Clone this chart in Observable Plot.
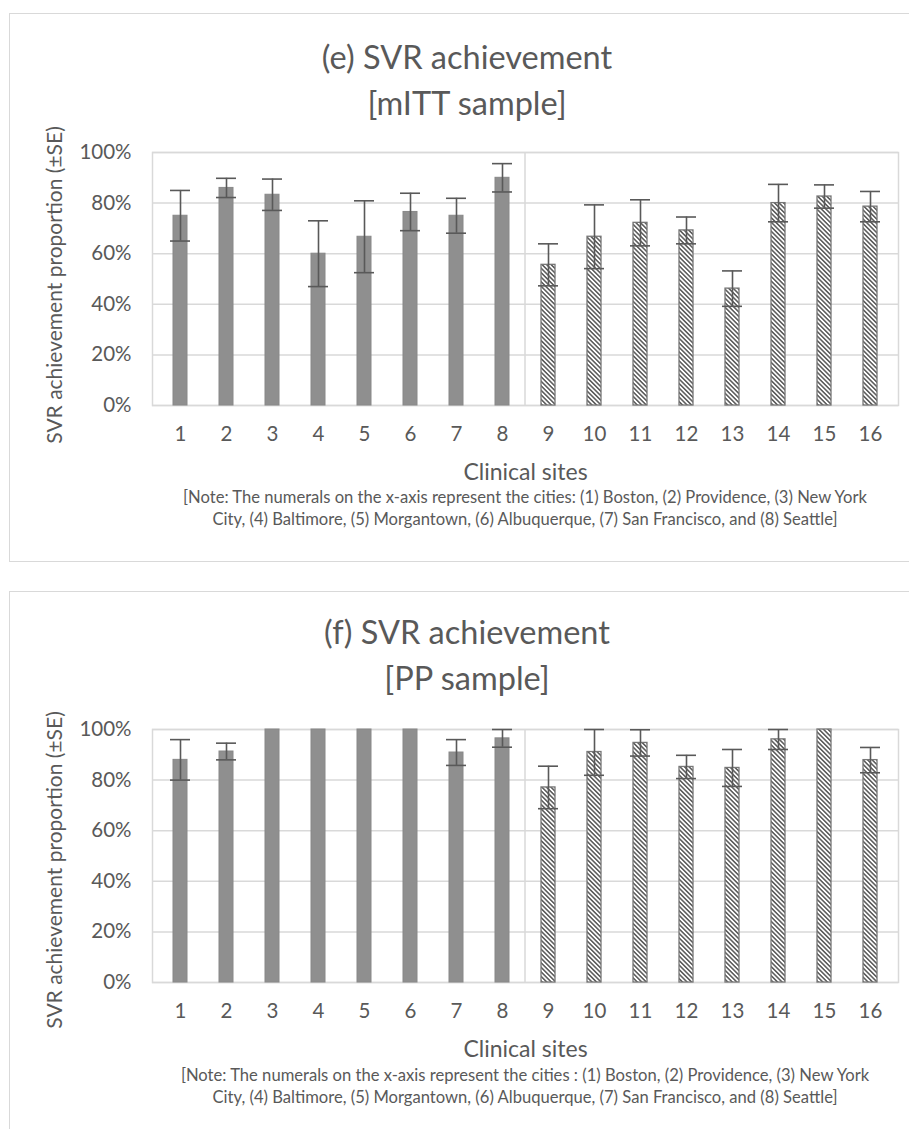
<!DOCTYPE html>
<html><head><meta charset="utf-8">
<script src="https://cdn.jsdelivr.net/npm/d3@7"></script>
<script src="https://cdn.jsdelivr.net/npm/@observablehq/plot@0.6"></script>
<style>
body{margin:0;background:#fff;}
#page{position:relative;width:909px;height:1129px;overflow:hidden;font-family:Lato,sans-serif;color:#595959;background:#fff;}
.box{position:absolute;left:9px;width:1000px;border:1.5px solid #d9d9d9;box-sizing:border-box;}
.title{position:absolute;left:9px;width:916px;text-align:center;font-size:32.5px;line-height:46px;}
.note{position:absolute;left:152px;width:746px;text-align:center;font-size:16.6px;line-height:21.5px;white-space:nowrap;}
.chart{position:absolute;left:0;}
</style></head><body>
<div id="page">
  <div class="box" style="top:13px;height:549px;"></div>
  <div class="box" style="top:591px;height:700px;"></div>
  <div class="title" style="top:34px;">(e) SVR achievement<br>[mITT sample]</div>
  <div class="title" style="top:609px;">(f) SVR achievement<br>[PP sample]</div>
  <div id="chartE" class="chart" style="top:140px;"></div>
  <div id="chartF" class="chart" style="top:717px;"></div>
  <div class="note" style="top:487px;">[Note: The numerals on the x-axis represent the cities: (1) Boston, (2) Providence, (3) New York<br>City, (4) Baltimore, (5) Morgantown, (6) Albuquerque, (7) San Francisco, and (8) Seattle]</div>
  <div class="note" style="top:1065px;">[Note: The numerals on the x-axis represent the cities : (1) Boston, (2) Providence, (3) New York<br>City, (4) Baltimore, (5) Morgantown, (6) Albuquerque, (7) San Francisco, and (8) Seattle]</div>
</div>
<script>
// ---- data ----
const sites = ["1","2","3","4","5","6","7","8","9","10","11","12","13","14","15","16"];
const solidSites = ["1","2","3","4","5","6","7","8"];
const yTicks = [0, 20, 40, 60, 80, 100];
const mittValues = [75, 86, 83.3, 60, 66.7, 76.5, 75, 90, 55.6, 66.7, 72.2, 69.2, 46.2, 80, 82.6, 78.6];
const mittSE     = [10, 3.8, 6.2, 13, 14.2, 7.4, 6.9, 5.6, 8.3, 12.6, 9.1, 5.3, 7.0, 7.4, 4.6, 6.0];
const ppValues   = [88, 91.3, 100, 100, 100, 100, 90.9, 96.5, 77.1, 91.1, 94.7, 85.2, 84.8, 96.1, 100, 87.9];
const ppSE       = [8, 3.3, 0, 0, 0, 0, 5.1, 3.5, 8.4, 9.2, 5.2, 4.6, 7.3, 4.0, 0, 5.0];
const xTitle = "Clinical sites";
const yTitle = "SVR achievement proportion (±SE)";

function panel(values, ses, id, yLabelShift) {
  const data = sites.map((s, i) => ({site: s, v: values[i], se: ses[i], solid: solidSites.includes(s)}));
  const errData = data.filter(d => d.se > 0);
  const defs = () => {
    const d = d3.create("svg:defs");
    const p = d.append("pattern").attr("id", id).attr("patternUnits", "userSpaceOnUse")
      .attr("width", 3.2).attr("height", 3.2).attr("patternTransform", "rotate(-45)");
    p.append("rect").attr("width", 3.2).attr("height", 3.2).attr("fill", "#fff");
    p.append("line").attr("x1", 0.8).attr("y1", 0).attr("x2", 0.8).attr("y2", 3.2)
      .attr("stroke", "#505050").attr("stroke-width", 1.45);
    return d.node();
  };
  const separator = (index, scales, values, dims) => {
    const x = scales.x;
    const xs = (x("8") + x.bandwidth() + x("9")) / 2;
    return d3.create("svg:line").attr("x1", xs).attr("x2", xs)
      .attr("y1", dims.marginTop).attr("y2", dims.height - dims.marginBottom)
      .attr("stroke", "#d9d9d9").attr("stroke-width", 1.5).node();
  };
  return Plot.plot({
    width: 909, height: 350,
    marginTop: 12, marginLeft: 152, marginRight: 11, marginBottom: 85,
    style: {fontFamily: "Lato, sans-serif", fontSize: "20.5px", color: "#595959", background: "transparent", overflow: "visible"},
    x: {domain: sites, paddingInner: 0.7, paddingOuter: 0.35, label: null},
    y: {domain: [0, 100], clamp: true, label: null},
    marks: [
      defs,
      Plot.ruleY(yTicks, {stroke: "#d9d9d9", strokeWidth: 1.5}),
      Plot.frame({stroke: "#d9d9d9", strokeWidth: 1.5}),
      separator,
      Plot.barY(data.filter(d => d.solid), {x: "site", y: "v", fill: "#8f8f8f", stroke: "#888888", strokeWidth: 1}),
      Plot.barY(data.filter(d => !d.solid), {x: "site", y: "v", fill: `url(#${id})`, stroke: "#777777", strokeWidth: 1.3}),
      Plot.ruleX(errData, {x: "site", y1: d => d.v - d.se, y2: d => d.v + d.se, stroke: "#595959", strokeWidth: 1.6}),
      Plot.tickY(errData, {x: "site", y: d => d.v - d.se, stroke: "#595959", strokeWidth: 1.6, insetLeft: 17, insetRight: 17}),
      Plot.tickY(errData, {x: "site", y: d => d.v + d.se, stroke: "#595959", strokeWidth: 1.6, insetLeft: 17, insetRight: 17}),
      Plot.axisX({tickSize: 0, tickPadding: 21, label: null}),
      Plot.axisY({ticks: yTicks, tickFormat: d => d + "%", tickSize: 0, tickPadding: 21, label: null}),
      Plot.text([xTitle], {text: d => d, frameAnchor: "bottom", dy: 67, lineAnchor: "middle", fontSize: 23}),
      Plot.text([yTitle], {text: d => d, frameAnchor: "left", dx: -97, dy: yLabelShift, rotate: -90, textAnchor: "middle", lineAnchor: "middle", fontSize: 21})
    ]
  });
}

document.getElementById("chartE").append(panel(mittValues, mittSE, "hatchE", 6));
document.getElementById("chartF").append(panel(ppValues, ppSE, "hatchF", 14));
</script>
</body></html>
